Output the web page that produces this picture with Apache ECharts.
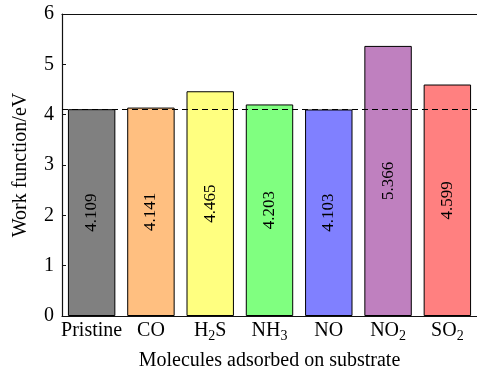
<!DOCTYPE html>
<html>
<head>
<meta charset="utf-8">
<script src="https://cdn.jsdelivr.net/npm/echarts@6/dist/echarts.min.js"></script>
<style>
  html, body { margin: 0; padding: 0; background: #fff; }
  #chart { width: 477px; height: 372px; }
</style>
</head>
<body>
<div id="chart"></div>
<script>
// Adsorbed molecules (rich-text markup for subscripts)
const categories = ['Pristine', 'CO', 'H{s|2}S', 'NH{s|3}', 'NO', 'NO{s|2}', 'SO{s|2}'];
const workFunction = [4.109, 4.141, 4.465, 4.203, 4.103, 5.366, 4.599];
const barColors = ['#808080', '#FFBF80', '#FFFF80', '#80FF80', '#8080FF', '#BF80BF', '#FF8080'];
const yTicks = [0, 1, 2, 3, 4, 5, 6];
const referenceLevel = 4.109;

const FONT = 'Liberation Serif';

const chart = echarts.init(document.getElementById('chart'), null, { renderer: 'canvas' });

chart.setOption({
  animation: false,
  textStyle: { fontFamily: FONT, color: '#000' },
  grid: { left: 62, right: 0, top: 14, bottom: 56, containLabel: false, outerBoundsMode: 'none' },
  xAxis: [{
    type: 'category',
    data: categories,
    position: 'bottom',
    name: 'Molecules adsorbed on substrate',
    nameLocation: 'middle',
    nameGap: 35,
    nameTextStyle: { fontFamily: FONT, fontSize: 20, color: '#000' },
    axisLine: { lineStyle: { color: '#111', width: 1.2 } },
    axisTick: { show: false },
    axisLabel: {
      fontFamily: FONT, fontSize: 20, color: '#000', margin: 5, interval: 0,
      formatter: v => '{a|' + v.replace(/\{s\|(\d)\}/g, '}{s|$1}{a|') + '}',
      rich: {
        a: { fontFamily: FONT, fontSize: 20, color: '#000', verticalAlign: 'top', lineHeight: 22 },
        s: { fontFamily: FONT, fontSize: 14, color: '#000', verticalAlign: 'top', lineHeight: 22, padding: [8, 0, 0, 0] }
      }
    }
  }, {
    type: 'category',
    data: categories,
    position: 'top',
    axisLine: { lineStyle: { color: '#111', width: 1.2 } },
    axisTick: { show: false },
    axisLabel: { show: false }
  }],
  yAxis: {
    type: 'value',
    min: 0,
    max: 6,
    interval: 1,
    name: 'Work function/eV',
    nameLocation: 'middle',
    nameGap: 31,
    nameRotate: 90,
    nameTextStyle: { fontFamily: FONT, fontSize: 20, color: '#000' },
    axisLine: { show: true, lineStyle: { color: '#111', width: 1.2 } },
    axisTick: { show: true, inside: true, length: 4, lineStyle: { color: '#111' } },
    axisLabel: {
      fontFamily: FONT, fontSize: 20, color: '#000', margin: 8,
      formatter: v => yTicks.includes(v) ? String(v) : ''
    },
    splitLine: { show: false }
  },
  series: [{
    type: 'bar',
    data: workFunction.map((v, i) => ({ value: v, itemStyle: { color: barColors[i] } })),
    barCategoryGap: '20%',
    itemStyle: { borderColor: '#000', borderWidth: 1 },
    label: {
      show: true,
      position: 'inside',
      rotate: 90,
      fontFamily: FONT,
      fontSize: 17,
      color: '#000',
      formatter: p => p.value.toFixed(3)
    },
    markLine: {
      silent: true,
      symbol: 'none',
      z: 10,
      label: { show: false },
      lineStyle: { color: '#000', type: [6, 4], width: 1.1 },
      data: [{ yAxis: referenceLevel }]
    }
  }]
});
</script>
</body>
</html>
